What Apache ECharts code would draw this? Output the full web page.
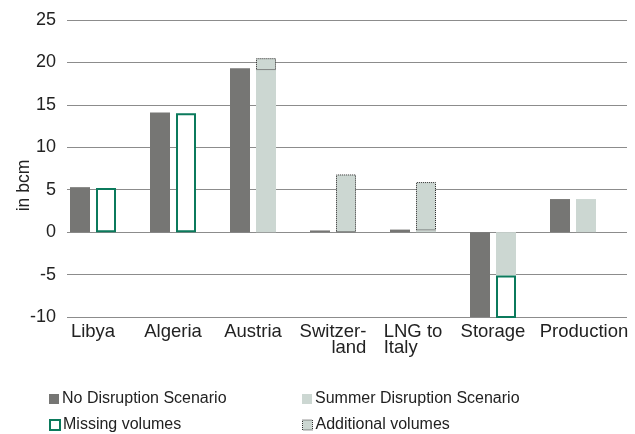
<!DOCTYPE html>
<html>
<head>
<meta charset="utf-8">
<script src="https://cdn.jsdelivr.net/npm/echarts@6/dist/echarts.min.js"></script>
<style>
  html, body { margin: 0; padding: 0; background: #fff; }
  #chart { width: 635px; height: 434px; }
</style>
</head>
<body>
<div id="chart"></div>
<script>
const categories = ['Libya', 'Algeria', 'Austria', 'Switzer-\nland', 'LNG to\nItaly', 'Storage', 'Production']

const noDisruption = [5.3, 14.1, 19.3, 0.2, 0.3, -10.2, 3.9]
const summerDisruption = [null, null, 19.1, null, 0.2, -5.1, 3.9]
const missingVolumes = [5.2, 14.0, null, null, null, -5.1, null]
const additionalVolumes = [null, null, 1.4, 6.8, 5.7, null, null]

const yTicks = [-10, -5, 0, 5, 10, 15, 20, 25]

const DARK = '#767674'
const LIGHT = '#ccd7d2'
const GREEN = '#0b7a5c'
const FONT = '"Liberation Sans", Arial, sans-serif'
const TXT = '#222'

const chart = echarts.init(document.getElementById('chart'))

// one legend per item so the 2x2 layout can be placed exactly
const legendItem = (item, left, top) => ({
  left,
  top,
  padding: 0,
  icon: 'rect',
  itemWidth: 10,
  itemHeight: 10,
  itemGap: 4,
  textStyle: { color: TXT, fontSize: 16, fontFamily: FONT, lineHeight: 18, padding: [0, 0, 0, -2] },
  data: [item]
})

const catLabels = categories.map((c) => {
  if (c === 'Production') {
    return { value: c, textStyle: { padding: [0, 0, 0, 22] } }
  }
  return c
})

const option = {
  backgroundColor: '#fff',
  animation: false,

  legend: [
    legendItem('No Disruption Scenario', 49, 390),
    legendItem({ name: 'Missing volumes', itemStyle: { borderWidth: 2 } }, 49, 416),
    legendItem('Summer Disruption Scenario', 302, 390),
    legendItem({ name: 'Additional volumes', itemStyle: { borderWidth: 1, borderType: 'dotted', borderColor: '#333' } }, 302, 416)
  ],

  grid: [
    // bars
    { left: 53, right: 22, top: 20, bottom: 117 },
    // grid lines + y labels
    { left: 67, right: 8, top: 20, bottom: 117 }
  ],

  xAxis: [
    {
      type: 'category',
      gridIndex: 0,
      data: catLabels,
      axisLine: { show: false },
      axisTick: { show: false },
      axisLabel: {
        color: TXT,
        fontSize: 18.5,
        fontFamily: FONT,
        lineHeight: 16,
        margin: 7,
        interval: 0,
        formatter: (v) => {
          if (v.startsWith('Switzer')) return '{r|Switzer-}\n{r|land}'
          if (v.startsWith('LNG')) return '{l|LNG to}\n{l|Italy}'
          return v
        },
        rich: {
          r: { align: 'right', fontSize: 18.5, fontFamily: FONT, color: TXT, lineHeight: 16 },
          l: { align: 'left', fontSize: 18.5, fontFamily: FONT, color: TXT, lineHeight: 16 }
        }
      }
    },
    {
      type: 'category',
      gridIndex: 1,
      data: categories,
      show: false
    }
  ],

  yAxis: [
    {
      type: 'value',
      gridIndex: 0,
      min: yTicks[0],
      max: yTicks[yTicks.length - 1],
      interval: 5,
      show: false,
      splitLine: { show: false }
    },
    {
      type: 'value',
      gridIndex: 1,
      min: yTicks[0],
      max: yTicks[yTicks.length - 1],
      interval: 5,
      name: 'in bcm',
      nameLocation: 'middle',
      nameGap: 34,
      nameMoveOverlap: false,
      nameTextStyle: { color: TXT, fontSize: 17.5, fontFamily: FONT, padding: [0, 34, 0, 0] },
      axisLine: { show: false },
      axisTick: { show: false },
      axisLabel: { color: TXT, fontSize: 18, fontFamily: FONT, margin: 11 },
      splitLine: { lineStyle: { color: '#8c8c8c', width: 1 } }
    }
  ],

  series: [
    {
      name: 'No Disruption Scenario',
      type: 'bar',
      stack: 'nd',
      xAxisIndex: 0,
      yAxisIndex: 0,
      barWidth: 20,
      barGap: '30%',
      data: noDisruption,
      itemStyle: { color: DARK }
    },
    {
      name: 'Summer Disruption Scenario',
      type: 'bar',
      stack: 'sd',
      xAxisIndex: 0,
      yAxisIndex: 0,
      barWidth: 20,
      data: summerDisruption,
      itemStyle: { color: LIGHT }
    },
    {
      name: 'Missing volumes',
      type: 'bar',
      stack: 'sd',
      xAxisIndex: 0,
      yAxisIndex: 0,
      barWidth: 20,
      data: missingVolumes,
      itemStyle: { color: '#fff', borderColor: GREEN, borderWidth: 2 }
    },
    {
      name: 'Additional volumes',
      type: 'bar',
      stack: 'sd',
      xAxisIndex: 0,
      yAxisIndex: 0,
      barWidth: 20,
      data: additionalVolumes,
      itemStyle: { color: LIGHT, borderColor: '#222', borderWidth: 1, borderType: 'dotted' }
    }
  ]
}

chart.setOption(option)
</script>
</body>
</html>
